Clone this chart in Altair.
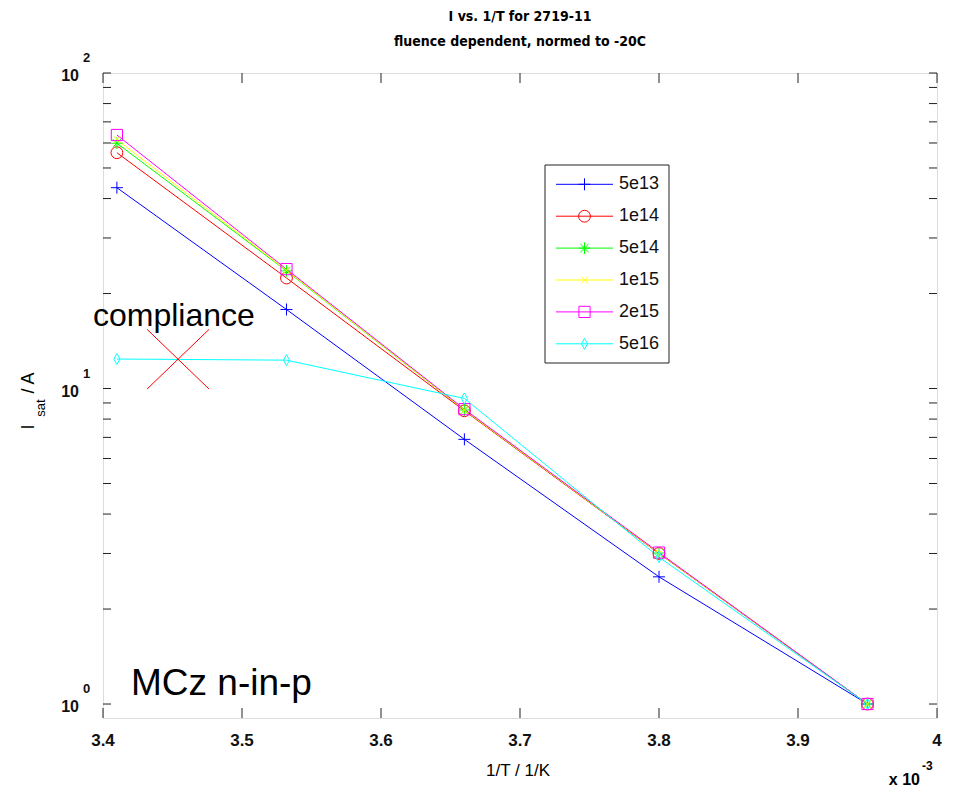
import altair as alt
import pandas as pd

# ---- data ----
inv_T = [3.41, 3.532, 3.66, 3.80, 3.95]  # 1/T in units of 1e-3 1/K
series_names = ["5e13", "1e14", "5e14", "1e15", "2e15", "5e16"]
i_5e13 = [43.3, 17.8, 6.9, 2.53, 1.0]
i_1e14 = [55.9, 22.4, 8.5, 3.0, 1.0]
i_5e14 = [59.9, 23.6, 8.55, 3.01, 1.0]
i_1e15 = [61.5, 23.7, 8.55, 3.01, 1.0]
i_2e15 = [63.6, 23.9, 8.6, 3.02, 1.0]
i_5e16 = [12.4, 12.3, 9.3, 2.92, 1.0]
series_values = [i_5e13, i_1e14, i_5e14, i_1e15, i_2e15, i_5e16]

x_ticks = [3.4, 3.5, 3.6, 3.7, 3.8, 3.9, 4.0]
y_major = [1, 10, 100]
y_minor = [2, 3, 4, 5, 6, 7, 8, 9, 20, 30, 40, 50, 60, 70, 80, 90]
# compliance cross: two strokes (x1, y1) -> (x2, y2)
cross_x1 = [3.4317, 3.4317]
cross_x2 = [3.4763, 3.4763]
cross_y1 = [15.4, 9.96]
cross_y2 = [9.96, 15.4]

# ---- styles ----
colors = ["#0000ff", "#ff0000", "#00ff00", "#ffff00", "#ff00ff", "#00ffff"]
shapes = [
    "M-1,0L1,0M0,-1L0,1",
    "circle",
    "M-1,0L1,0M0,-1L0,1M-0.7,-0.7L0.7,0.7M-0.7,0.7L0.7,-0.7",
    "M-0.6,-0.6L0.6,0.6M-0.6,0.6L0.6,-0.6",
    "square",
    "M0,-1L0.55,0L0,1L-0.55,0Z",
]
sizes = [144, 121, 144, 144, 144, 196]

W, H = 834, 645
FONT = "Liberation Sans"

rows = []
for name, vals in zip(series_names, series_values):
    for xv, yv in zip(inv_T, vals):
        rows.append({"series": name, "x": xv, "y": yv})
df = pd.DataFrame(rows)

xscale = alt.Scale(domain=[3.4, 4.0], nice=False, zero=False)
yscale = alt.Scale(type="log", domain=[0.903, 100], nice=False)
cscale = alt.Scale(domain=series_names, range=colors)
sscale = alt.Scale(domain=series_names, range=shapes)
zscale = alt.Scale(domain=series_names, range=sizes)

X = alt.X("x:Q", scale=xscale, axis=None)
Y = alt.Y("y:Q", scale=yscale, axis=None)
C = alt.Color("series:N", scale=cscale, legend=None)
S = alt.Shape("series:O", scale=sscale, legend=None)
Z = alt.Size("series:O", scale=zscale, legend=None)

base = alt.Chart(df)
lines = base.mark_line(strokeWidth=1).encode(x=X, y=Y, color=C, detail="series:N")
points = base.mark_point(filled=False, strokeWidth=1, opacity=1).encode(
    x=X, y=Y, color=C, shape=S, size=Z
)

# inward ticks
xt = pd.DataFrame({"x": x_ticks})
xtick_b = alt.Chart(xt).mark_rule(color="#222", strokeWidth=1).encode(
    x=X, y=alt.value(H), y2=alt.value(H - 10))
xtick_t = alt.Chart(xt).mark_rule(color="#222", strokeWidth=1).encode(
    x=X, y=alt.value(0), y2=alt.value(10))
yt = pd.DataFrame({"y": y_major + y_minor})
ytick_l = alt.Chart(yt).mark_rule(color="#222", strokeWidth=1).encode(
    y=Y, x=alt.value(0), x2=alt.value(8))
ytick_r = alt.Chart(yt).mark_rule(color="#222", strokeWidth=1).encode(
    y=Y, x=alt.value(W), x2=alt.value(W - 8))

# x tick labels
xlab = alt.Chart(xt).mark_text(font=FONT, fontSize=17, fontWeight="bold",
                                baseline="middle", align="center", color="#111").encode(
    x=X, y=alt.value(H + 23),
    text=alt.Text("x:Q", format="~g"))

# y tick labels 10^k
yl = pd.DataFrame({"y": y_major, "e": ["0", "1", "2"]})
ylab10 = alt.Chart(yl).mark_text(font=FONT, fontSize=16, fontWeight="bold", align="right",
                                  baseline="middle", dy=3, color="#111").encode(
    y=Y, x=alt.value(-24), text=alt.value("10"))
ylabexp = alt.Chart(yl).mark_text(font=FONT, fontSize=13, fontWeight="bold", align="left",
                                   baseline="middle", dy=-15, color="#111").encode(
    y=Y, x=alt.value(-20), text="e:N")

one = alt.Data(values=[{"a": 1}])


def label(txt, x, y, size, weight="normal", align="center", baseline="middle",
          angle=0, color="#000", font=FONT):
    return alt.Chart(one).mark_text(font=font, fontSize=size, fontWeight=weight, align=align,
                                    baseline=baseline, angle=angle, color=color).encode(
        x=alt.value(x), y=alt.value(y), text=alt.value(txt))


TFONT = "Liberation Sans Narrow, DejaVu Sans Condensed, sans-serif"
texts = [
    label("I vs. 1/T for 2719-11", 417, -56, 14, weight="bold", font=TFONT),
    label("fluence dependent, normed to -20C", 417, -31, 14, weight="bold", font=TFONT),
    label("1/T / 1/K", 415, H + 53, 17),
    label("x 10", 817, H + 62, 16, weight="bold", align="right"),
    label("-3", 819, H + 48, 12, weight="bold", align="left"),
    label("I", -74, 354, 18, angle=270),
    label("sat", -62, 335, 13, angle=270),
    label("/ A", -74, 310, 18, angle=270),
    label("compliance", -10, 253, 32, align="left", baseline="alphabetic"),
    label("MCz n-in-p", 28, 622, 37, align="left", baseline="alphabetic"),
]

# compliance cross
cross_df = pd.DataFrame({"x": cross_x1, "x2": cross_x2, "y": cross_y1, "y2": cross_y2})
comp = alt.Chart(cross_df).mark_rule(color="#ff0000", strokeWidth=1).encode(
    x=X, x2="x2:Q", y=Y, y2="y2:Q")

# legend
leg_df = pd.DataFrame({"series": series_names,
                       "ly": [111.3 + 31.9 * i for i in range(len(series_names))]})
LY = alt.Y("ly:Q", scale=None, axis=None)
leg_box = alt.Chart(one).mark_rect(fill="white", stroke="#222", strokeWidth=1).encode(
    x=alt.value(442), x2=alt.value(566), y=alt.value(92), y2=alt.value(290))
leg_line = alt.Chart(leg_df).mark_rule(strokeWidth=1).encode(
    x=alt.value(453), x2=alt.value(510), y=LY, color=C)
leg_pt = alt.Chart(leg_df).mark_point(filled=False, strokeWidth=1, opacity=1).encode(
    x=alt.value(481.5), y=LY, color=C, shape=S, size=Z)
leg_txt = alt.Chart(leg_df).mark_text(font=FONT, fontSize=18, align="left", baseline="middle",
                                      color="#111").encode(
    x=alt.value(516), y=LY, text="series:N")

chart = alt.layer(
    xtick_b, xtick_t, ytick_l, ytick_r,
    lines, points, comp,
    xlab, ylab10, ylabexp, *texts,
    leg_box, leg_line, leg_pt, leg_txt,
).properties(
    width=W, height=H,
    autosize=alt.AutoSizeParams(type="none"),
    padding={"left": 95, "top": 65, "right": 8, "bottom": 70},
).configure_view(stroke="#222", strokeWidth=1.2).configure(background="white")

chart.save("out.html", embed_options={"renderer": "svg", "actions": False})
